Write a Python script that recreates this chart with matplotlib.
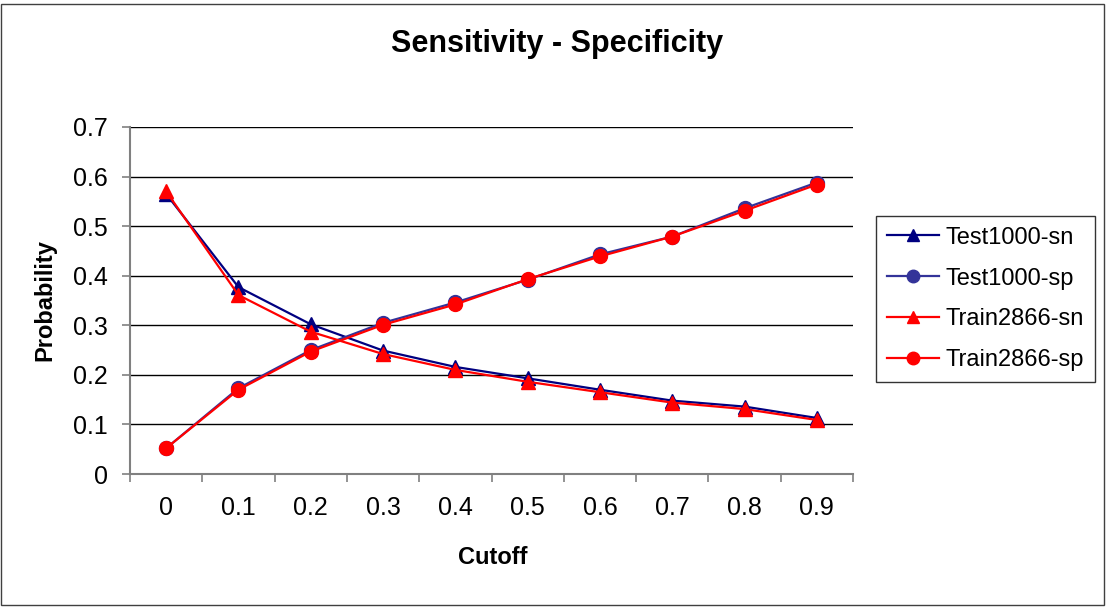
import matplotlib
matplotlib.use("Agg")
import matplotlib.pyplot as plt
from matplotlib.patches import Rectangle

plt.rcParams['font.family'] = ['Liberation Sans', 'DejaVu Sans']

cutoffs = ["0", "0.1", "0.2", "0.3", "0.4", "0.5", "0.6", "0.7", "0.8", "0.9"]
test_sn = [0.565, 0.377, 0.302, 0.249, 0.216, 0.193, 0.170, 0.148, 0.136, 0.113]
test_sp = [0.052, 0.173, 0.250, 0.305, 0.346, 0.392, 0.443, 0.479, 0.536, 0.588]
train_sn = [0.570, 0.361, 0.287, 0.242, 0.210, 0.186, 0.165, 0.144, 0.131, 0.109]
train_sp = [0.052, 0.170, 0.247, 0.301, 0.342, 0.393, 0.439, 0.479, 0.531, 0.584]

W, H = 1109, 608
fig = plt.figure(figsize=(W / 100, H / 100), dpi=100)

# outer chart border
fig.patches.append(Rectangle((1 / W, 3 / H), 1103 / W, 601 / H, transform=fig.transFigure,
                             fill=False, edgecolor='#404040', linewidth=1.0))

left, right, top, bottom = 130, 853, 127, 474
ax = fig.add_axes([left / W, 1 - bottom / H, (right - left) / W, (bottom - top) / H])

x = list(range(len(cutoffs)))
ms = 10
ax.plot(x, test_sn, color='#000080', linewidth=1.6, marker='^', markersize=ms,
        markerfacecolor='#000080', markeredgecolor='#000080', label='Test1000-sn', zorder=3)
ax.plot(x, test_sp, color='#333399', linewidth=1.6, marker='o', markersize=ms,
        markerfacecolor='#333399', markeredgecolor='#333399', label='Test1000-sp', zorder=3)
ax.plot(x, train_sn, color='#ff0000', linewidth=1.6, marker='^', markersize=ms,
        markerfacecolor='#ff0000', markeredgecolor='#ff0000', label='Train2866-sn', zorder=4)
ax.plot(x, train_sp, color='#ff0000', linewidth=1.6, marker='o', markersize=ms,
        markerfacecolor='#ff0000', markeredgecolor='#ff0000', label='Train2866-sp', zorder=4)

ax.set_xlim(-0.5, len(cutoffs) - 0.5)
ax.set_ylim(0, 0.7)
ax.set_yticks([i / 10 for i in range(8)])
ax.set_yticklabels(["0", "0.1", "0.2", "0.3", "0.4", "0.5", "0.6", "0.7"])
ax.set_xticks(x)
ax.set_xticklabels(cutoffs)
ax.set_xticks([i - 0.5 for i in range(len(cutoffs) + 1)], minor=True)
ax.tick_params(axis='x', which='major', length=0, pad=16, labelsize=18)
ax.tick_params(axis='x', which='minor', length=6, width=1.2, color='#808080', direction='out')
ax.tick_params(axis='y', which='major', length=6, width=1.2, color='#808080', labelsize=18, pad=10)

ax.yaxis.grid(True, color='black', linewidth=1.0)
ax.set_axisbelow(True)
for s in ['top', 'right']:
    ax.spines[s].set_visible(False)
for s in ['left', 'bottom']:
    ax.spines[s].set_color('#808080')
    ax.spines[s].set_linewidth(1.5)

fig.text(557 / W, 1 - 44 / H, 'Sensitivity - Specificity', fontsize=22, fontweight='bold',
         ha='center', va='center')
fig.text(493 / W, 1 - 558 / H, 'Cutoff', fontsize=17, fontweight='bold',
         ha='center', va='center')
fig.text(45 / W, 1 - 300 / H, 'Probability', fontsize=17, fontweight='bold',
         ha='center', va='center', rotation=90)

leg = fig.legend(loc='upper left', bbox_to_anchor=(876 / W, 1 - 216 / H), fontsize=17,
                 frameon=True, fancybox=False, edgecolor='black', handlelength=2.2,
                 labelspacing=0.8, borderpad=0.45, handletextpad=0.3, borderaxespad=0)
leg.get_frame().set_linewidth(1.0)
for h in leg.legend_handles:
    h.set_markersize(9)

fig.savefig('out.png', dpi=100)
